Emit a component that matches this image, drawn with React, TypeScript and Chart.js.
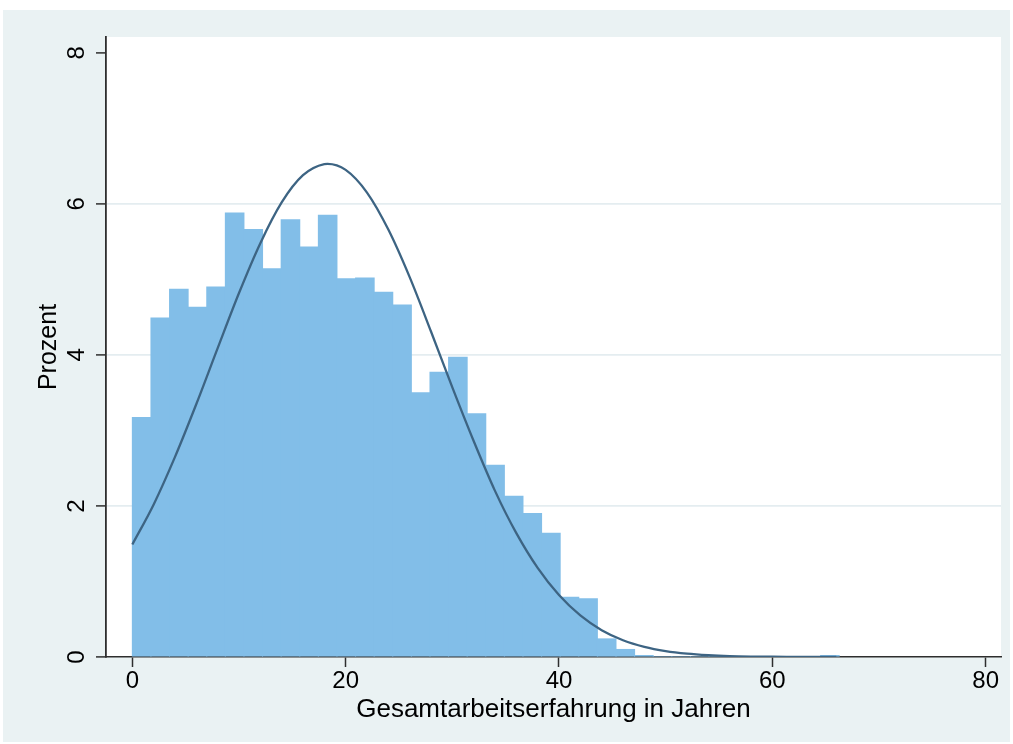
import React, { useEffect, useRef } from "react";
import { Chart, registerables } from "chart.js";

Chart.register(...registerables);

// Histogram: bins start at 0, equal width (years)
const binStart = 0;
const binWidth = 1.744;
const binPercents = [
  3.17, 4.49, 4.87, 4.63, 4.9, 5.88, 5.66, 5.14, 5.79, 5.43,
  5.85, 5.01, 5.02, 4.83, 4.66, 3.5, 3.77, 3.97, 3.22, 2.54,
  2.13, 1.9, 1.64, 0.79, 0.77, 0.24, 0.1, 0.02, 0, 0,
  0, 0, 0, 0, 0, 0, 0, 0.02,
];

// Normal density overlay (in percent per bin)
const curveX = [
  0, 2, 4, 6, 8, 10, 12, 14, 16, 18, 18.3, 20, 22, 24, 26, 28, 30, 32, 34, 36,
  38, 40, 42, 44, 46, 48, 50, 52, 54, 56, 58, 60, 62, 64, 66,
];
const curveY = [
  1.49, 2.02, 2.65, 3.35, 4.09, 4.82, 5.48, 6.02, 6.38, 6.527, 6.53, 6.45, 6.15,
  5.66, 5.03, 4.31, 3.57, 2.86, 2.2, 1.64, 1.18, 0.82, 0.55, 0.355, 0.222, 0.134,
  0.078, 0.044, 0.024, 0.012, 0.006, 0.003, 0.0015, 0.0007, 0.0003,
];

const xTicks = [0, 20, 40, 60, 80];
const yTicks = [0, 2, 4, 6, 8];
const xTitle = "Gesamtarbeitserfahrung in Jahren";
const yTitle = "Prozent";

const GRAPH_BG = "#EAF2F3";
const BAR_COLOR = "#82BEE8";
const CURVE_COLOR = "#3D6483";
const AXIS_COLOR = "#2E2E2E";
const GRID_COLOR = "#E4EDF0";
const FONT = "'Liberation Sans', Arial, Helvetica, sans-serif";

export default function App() {
  const canvasRef = useRef<HTMLCanvasElement | null>(null);

  useEffect(() => {
    const canvas = canvasRef.current;
    if (!canvas) return;

    const barData = binPercents.map((v, i) => ({
      x: binStart + (i + 0.5) * binWidth,
      y: v,
    }));
    const lineData = curveX.map((x, i) => ({ x, y: curveY[i] }));

    const bgPlugin = {
      id: "stataBg",
      beforeDraw(chart: any) {
        const { ctx, width, height, chartArea } = chart;
        ctx.save();
        ctx.fillStyle = "#ffffff";
        ctx.fillRect(0, 0, width, height);
        ctx.fillStyle = GRAPH_BG;
        ctx.fillRect(3, 10, 1007, 732);
        ctx.fillStyle = "#ffffff";
        ctx.fillRect(
          chartArea.left,
          chartArea.top,
          chartArea.right - chartArea.left,
          chartArea.bottom - chartArea.top
        );
        ctx.restore();
      },
      afterDraw(chart: any) {
        const { ctx } = chart;
        const ys = chart.scales.y;
        ctx.save();
        ctx.fillStyle = "#000";
        ctx.font = `24px ${FONT}`;
        ctx.textAlign = "center";
        ctx.textBaseline = "middle";
        for (const v of yTicks) {
          const y = ys.getPixelForValue(v);
          ctx.save();
          ctx.translate(77, y);
          ctx.rotate(-Math.PI / 2);
          ctx.fillText(String(v), 0, 0);
          ctx.restore();
        }
        ctx.restore();
      },
    };

    const chart = new Chart(canvas, {
      type: "bar",
      data: {
        datasets: [
          {
            type: "line",
            data: lineData,
            borderColor: CURVE_COLOR,
            borderWidth: 2.3,
            pointRadius: 0,
            fill: false,
            cubicInterpolationMode: "monotone",
            order: 0,
          } as any,
          {
            type: "bar",
            data: barData,
            backgroundColor: BAR_COLOR,
            borderWidth: 0,
            inflateAmount: 0.5,
            barPercentage: 1,
            categoryPercentage: 1,
            order: 1,
          } as any,
        ],
      },
      options: {
        animation: false,
        responsive: false,
        maintainAspectRatio: false,
        layout: { padding: { left: 0, top: 37, right: 12, bottom: 0 } },
        plugins: {
          legend: { display: false },
          tooltip: { enabled: false },
        },
        scales: {
          x: {
            type: "linear",
            offset: false,
            min: -2.47,
            max: 81.44,
            afterBuildTicks: (scale: any) => {
              scale.ticks = xTicks.map((v) => ({ value: v }));
            },
            afterFit: (scale: any) => {
              scale.height = 87;
            },
            grid: {
              offset: false,
              drawOnChartArea: false,
              drawTicks: true,
              tickLength: 10,
              tickColor: AXIS_COLOR,
              tickWidth: 1.5,
            },
            border: { display: true, color: AXIS_COLOR, width: 1.6 },
            ticks: {
              color: "#000",
              font: { family: FONT, size: 24 },
              padding: 0,
              maxRotation: 0,
              minRotation: 0,
            },
            title: {
              display: true,
              text: xTitle,
              color: "#000",
              font: { family: FONT, size: 26 },
              padding: { top: 0, bottom: 19 },
            },
          },
          y: {
            type: "linear",
            min: 0,
            max: 8.21,
            afterBuildTicks: (scale: any) => {
              scale.ticks = yTicks.map((v) => ({ value: v }));
            },
            afterFit: (scale: any) => {
              scale.width = 106;
            },
            grid: {
              drawOnChartArea: true,
              color: (c: any) =>
                c.tick && c.tick.value > 0 && c.tick.value < 8
                  ? GRID_COLOR
                  : "rgba(0,0,0,0)",
              lineWidth: 1.8,
              drawTicks: true,
              tickLength: 10,
              tickColor: AXIS_COLOR,
              tickWidth: 1.5,
            },
            border: { display: true, color: AXIS_COLOR, width: 1.8 },
            ticks: { display: false },
            title: {
              display: true,
              text: yTitle,
              color: "#000",
              font: { family: FONT, size: 25 },
              padding: { top: 34, bottom: 0 },
            },
          },
        },
      },
      plugins: [bgPlugin],
    });

    return () => {
      chart.destroy();
    };
  }, []);

  return (
    <div
      style={{
        position: "fixed",
        left: 0,
        top: 0,
        width: 1013,
        height: 744,
        background: "#fff",
      }}
    >
      <canvas
        ref={canvasRef}
        width={1013}
        height={744}
        style={{ display: "block", width: 1013, height: 744 }}
      />
    </div>
  );
}
